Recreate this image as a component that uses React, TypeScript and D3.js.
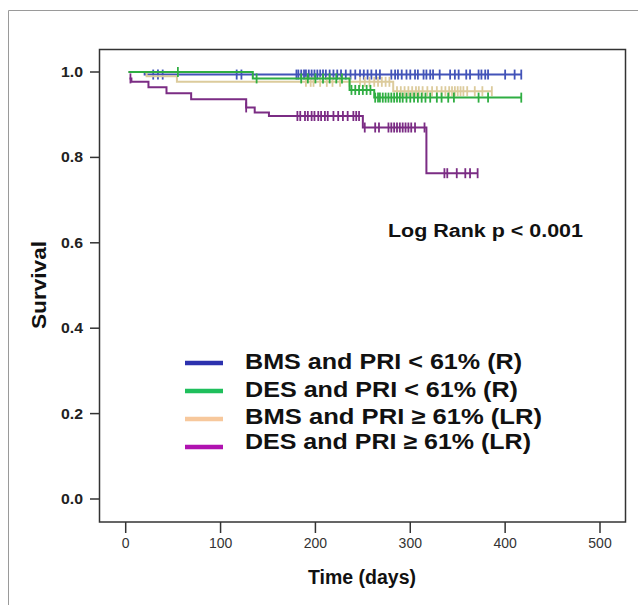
import React, { useEffect, useRef } from 'react';
import * as d3 from 'd3';

// Kaplan-Meier curves (days, survival)
const groupLabels = [
  'BMS and PRI < 61% (R)',
  'DES and PRI < 61% (R)',
  'BMS and PRI \u2265  61% (LR)',
  'DES and PRI \u2265 61% (LR)',
];

const bmsLowTimes = [3, 20];
const bmsLowSurv = [1.0, 0.994];
const bmsLowCensor = [29, 34, 39, 117, 122, 180, 182, 185, 188, 190, 193, 196, 199, 202, 205, 208, 211, 215, 219, 223, 227, 232, 237, 242, 247, 251, 255, 259, 264, 268, 280, 284, 287, 291, 296, 300, 305, 308, 314, 317, 321, 324, 331, 342, 347, 351, 359, 363, 372, 375, 379, 382, 400, 410, 417];

const desLowTimes = [3, 134, 236, 262];
const desLowSurv = [1.0, 0.985, 0.958, 0.94];
const desLowCensor = [55, 138, 185, 192, 200, 208, 215, 222, 228, 238, 242, 246, 250, 254, 258, 263, 266, 268, 271, 274, 277, 280, 283, 286, 289, 292, 296, 300, 304, 308, 312, 316, 321, 328, 333, 340, 346, 372, 382, 417];

const bmsHighTimes = [3, 22, 54, 282];
const bmsHighSurv = [1.0, 0.99, 0.977, 0.955];
const bmsHighCensor = [190, 195, 198, 205, 212, 218, 226, 236, 247, 252, 257, 262, 266, 270, 274, 278, 286, 290, 294, 298, 302, 306, 309, 313, 318, 323, 328, 333, 337, 341, 344, 347, 350, 353, 356, 360, 368, 376, 386];

const desHighTimes = [4, 6, 24, 43, 69, 127, 136, 151, 250, 317];
const desHighSurv = [0.985, 0.977, 0.964, 0.95, 0.936, 0.917, 0.905, 0.897, 0.87, 0.763];
const desHighCensor = [5, 127, 181, 184, 189, 192, 196, 199, 203, 206, 210, 213, 219, 224, 229, 234, 240, 243, 246, 252, 263, 267, 277, 280, 283, 286, 289, 292, 295, 298, 301, 305, 315, 336, 339, 349, 358, 363, 371];

const xTicks = [0, 100, 200, 300, 400, 500];
const yTicks = [0, 0.2, 0.4, 0.6, 0.8, 1.0];

const curveColors = ['#4253b8', '#2fae42', '#dccb9c', '#7b2c84'];
const legendColors = ['#2c31ae', '#1fbf5c', '#f7c89c', '#b013b0'];

const App = () => {
  const ref = useRef<SVGSVGElement>(null);

  useEffect(() => {
    const svg = d3.select(ref.current);
    svg.selectAll('*').remove();

    const x = d3.scaleLinear().domain([0, 500]).range([125.7, 600]);
    const y = d3.scaleLinear().domain([0, 1]).range([499, 72]);

    const font = '"Liberation Sans", Arial, sans-serif';

    // outer frame (only top and left edges visible)
    svg.append('path')
      .attr('d', 'M8.5,605 V10.5 H638')
      .attr('fill', 'none')
      .attr('stroke', '#9a9a9a')
      .attr('stroke-width', 1);

    // plot box
    svg.append('rect')
      .attr('x', 99.5).attr('y', 49.5)
      .attr('width', 526).attr('height', 472.5)
      .attr('fill', 'none')
      .attr('stroke', '#333')
      .attr('stroke-width', 1.5);

    // y axis
    yTicks.forEach((v) => {
      svg.append('line')
        .attr('x1', 90).attr('x2', 99)
        .attr('y1', y(v)).attr('y2', y(v))
        .attr('stroke', '#333').attr('stroke-width', 1.5);
      svg.append('text')
        .attr('x', 83).attr('y', y(v) + 5)
        .attr('text-anchor', 'end')
        .attr('textLength', 22)
        .attr('lengthAdjust', 'spacingAndGlyphs')
        .style('font-family', font)
        .style('font-weight', 'bold')
        .style('font-size', '14px')
        .style('fill', '#222')
        .text(d3.format('.1f')(v));
    });

    // x axis
    xTicks.forEach((t) => {
      svg.append('line')
        .attr('x1', x(t)).attr('x2', x(t))
        .attr('y1', 522).attr('y2', 533)
        .attr('stroke', '#333').attr('stroke-width', 1.5);
      svg.append('text')
        .attr('x', x(t)).attr('y', 548)
        .attr('text-anchor', 'middle')
        .style('font-family', font)
        .style('font-size', '14px')
        .style('fill', '#333')
        .text(t);
    });

    svg.append('text')
      .attr('x', 308).attr('y', 584)
      .attr('textLength', 108)
      .attr('lengthAdjust', 'spacingAndGlyphs')
      .style('font-family', font)
      .style('font-weight', 'bold')
      .style('font-size', '20px')
      .style('fill', '#111')
      .text('Time (days)');

    svg.append('text')
      .attr('transform', 'translate(46,329) rotate(-90)')
      .attr('textLength', 88)
      .attr('lengthAdjust', 'spacingAndGlyphs')
      .style('font-family', font)
      .style('font-weight', 'bold')
      .style('font-size', '21px')
      .style('fill', '#111')
      .text('Survival');

    // curves
    const groups = [
      { times: bmsLowTimes, surv: bmsLowSurv, censor: bmsLowCensor },
      { times: bmsHighTimes, surv: bmsHighSurv, censor: bmsHighCensor },
      { times: desLowTimes, surv: desLowSurv, censor: desLowCensor },
      { times: desHighTimes, surv: desHighSurv, censor: desHighCensor },
    ];
    const colorIdx = [0, 2, 1, 3];

    const line = d3.line<[number, number]>()
      .x(d => x(d[0]))
      .y(d => y(d[1]))
      .curve(d3.curveStepAfter);

    groups.forEach((g, gi) => {
      const color = curveColors[colorIdx[gi]];
      const end = Math.max(g.censor[g.censor.length - 1], g.times[g.times.length - 1]);
      const pts: [number, number][] = g.times.map((t, i) => [t, g.surv[i]]);
      pts.push([end, g.surv[g.surv.length - 1]]);

      svg.append('path')
        .attr('d', line(pts))
        .attr('fill', 'none')
        .attr('stroke', color)
        .attr('stroke-width', 2);

      const survAt = (t: number) => {
        let s = g.surv[0];
        g.times.forEach((tt, i) => { if (tt <= t) s = g.surv[i]; });
        return s;
      };

      svg.append('g')
        .selectAll('line')
        .data(g.censor)
        .enter().append('line')
        .attr('x1', d => x(d)).attr('x2', d => x(d))
        .attr('y1', d => y(survAt(d)) - 5)
        .attr('y2', d => y(survAt(d)) + 5)
        .attr('stroke', color)
        .attr('stroke-width', 1.8);
    });

    svg.append('text')
      .attr('x', 388).attr('y', 237)
      .attr('textLength', 195)
      .attr('lengthAdjust', 'spacingAndGlyphs')
      .style('font-family', font)
      .style('font-weight', 'bold')
      .style('font-size', '18px')
      .style('fill', '#111')
      .text('Log Rank p < 0.001');

    // legend
    const legendY = [363, 391, 419, 447];
    const textBase = [369, 397, 424, 449];
    const textWidths = [277, 273, 297, 286];
    groupLabels.forEach((label, i) => {
      svg.append('line')
        .attr('x1', 185).attr('x2', 223)
        .attr('y1', legendY[i]).attr('y2', legendY[i])
        .attr('stroke', legendColors[i])
        .attr('stroke-width', 4.5);
      svg.append('text')
        .attr('x', 245).attr('y', textBase[i])
        .attr('textLength', textWidths[i])
        .attr('lengthAdjust', 'spacingAndGlyphs')
        .style('font-family', font)
        .style('font-weight', 'bold')
        .style('font-size', '22px')
        .style('fill', '#111')
        .text(label);
    });
  }, []);

  return (
    <svg
      ref={ref}
      width={638}
      height={605}
      style={{ position: 'absolute', left: 0, top: 0, background: '#fff' }}
    />
  );
};

export default App;
